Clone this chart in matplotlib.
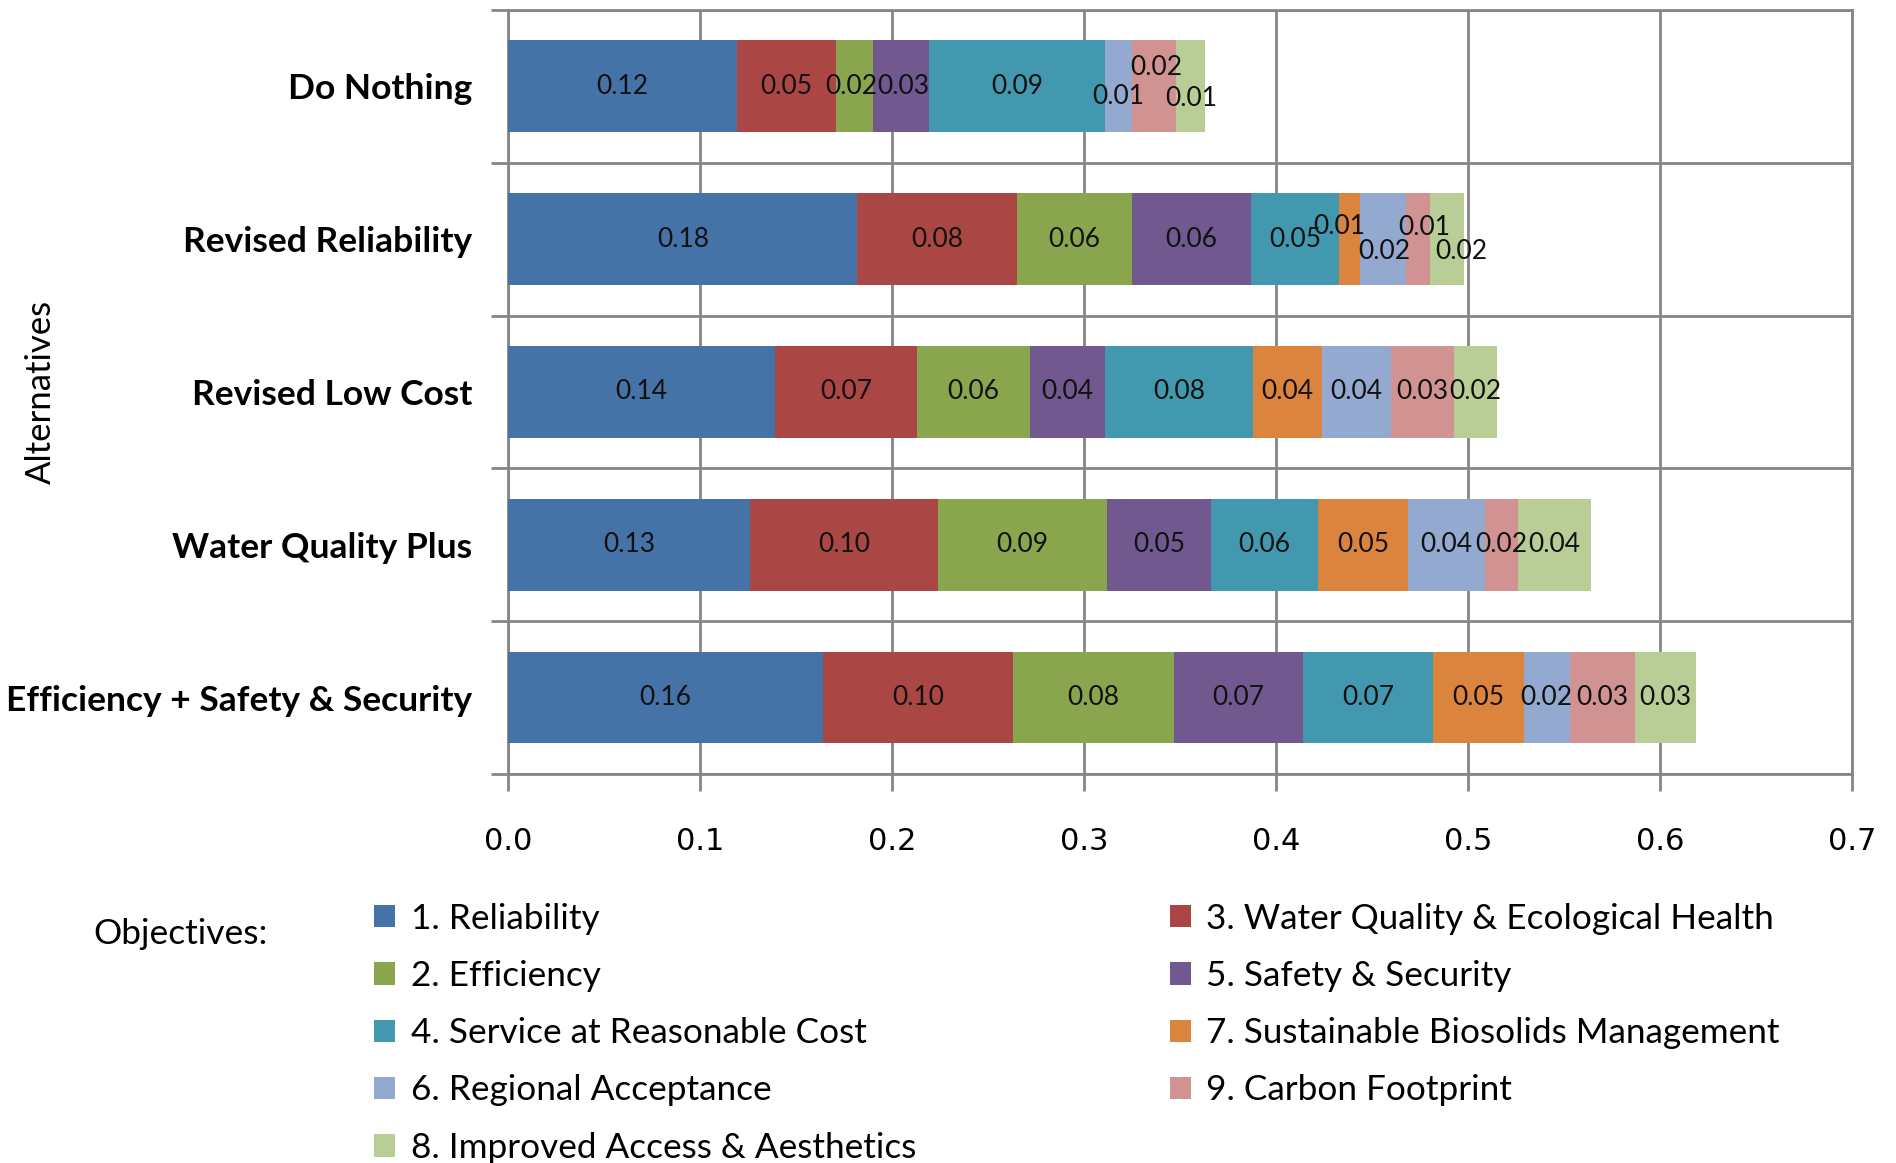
import numpy as np
import matplotlib.pyplot as plt
from matplotlib.patches import Patch

# alternatives, top to bottom
alternatives = ["Do Nothing", "Revised Reliability", "Revised Low Cost",
                "Water Quality Plus", "Efficiency + Safety & Security"]

# objectives in stacking order
objectives = ["1. Reliability", "3. Water Quality & Ecological Health", "2. Efficiency",
              "5. Safety & Security", "4. Service at Reasonable Cost",
              "7. Sustainable Biosolids Management", "6. Regional Acceptance",
              "9. Carbon Footprint", "8. Improved Access & Aesthetics"]

reliability   = [0.119, 0.182, 0.139, 0.126, 0.164]
water_quality = [0.052, 0.083, 0.074, 0.098, 0.099]
efficiency    = [0.019, 0.060, 0.059, 0.088, 0.084]
safety        = [0.029, 0.062, 0.039, 0.054, 0.067]
service       = [0.092, 0.046, 0.077, 0.056, 0.068]
biosolids     = [0.000, 0.011, 0.036, 0.047, 0.047]
regional      = [0.014, 0.024, 0.036, 0.040, 0.024]
carbon        = [0.023, 0.012, 0.033, 0.017, 0.034]
access        = [0.015, 0.018, 0.022, 0.038, 0.032]

series = [reliability, water_quality, efficiency, safety, service,
          biosolids, regional, carbon, access]

colors = ["#4572A7", "#AA4643", "#89A54E", "#71588F", "#4198AF",
          "#DB843D", "#93A9CF", "#D19392", "#B9CD96"]

x_ticks = [0.0, 0.1, 0.2, 0.3, 0.4, 0.5, 0.6, 0.7]

# nudges (pixels) for crowded data labels: (row, series) -> (dx, dy)
label_shift = {(0, 2): (-3, 0), (0, 3): (3, 0),
               (0, 6): (0, -10), (0, 7): (2, 19), (0, 8): (1, -12),
               (1, 5): (-11, 13), (1, 6): (1, -12), (1, 7): (6, 12), (1, 8): (15, -12)}

grid_col = "#868686"
label_font = ["Lato", "DejaVu Sans"]

fig = plt.figure(figsize=(18.96, 11.63), dpi=100)
ax = fig.add_axes([0.268, 0.3345, 0.7087, 0.657])

y = np.arange(len(alternatives))
left = np.zeros(len(alternatives))
for i, vals in enumerate(series):
    vals = np.array(vals)
    ax.barh(y, vals, left=left, height=0.6, color=colors[i], zorder=3)
    for r in range(len(alternatives)):
        if vals[r] <= 0:
            continue
        dx, dy = label_shift.get((r, i), (0, 0))
        ax.annotate(f"{vals[r]:.2f}", (left[r] + vals[r] / 2, y[r]),
                    xytext=(dx, dy), textcoords="offset pixels",
                    ha="center", va="center", fontsize=19,
                    family=label_font, color="#111111", zorder=5)
    left = left + vals

ax.set_xlim(0, 0.7)
ax.set_ylim(len(alternatives) - 0.5, -0.5)
ax.set_xticks(x_ticks)
ax.set_xticklabels([f"{t:.1f}" for t in x_ticks], fontsize=22)
ax.set_yticks(y)
ax.set_yticklabels(alternatives, fontsize=25.5, fontweight="bold", family=label_font)
ax.set_yticks(np.arange(len(alternatives) + 1) - 0.5, minor=True)

ax.tick_params(axis="y", which="major", length=0, pad=26)
ax.tick_params(axis="y", which="minor", length=12, width=2, color=grid_col)
ax.tick_params(axis="x", length=12, width=2, color=grid_col, pad=26)

ax.grid(True, axis="x", color=grid_col, linewidth=2, zorder=0)
ax.grid(True, axis="y", which="minor", color=grid_col, linewidth=2, zorder=0)
for s in ax.spines.values():
    s.set_color(grid_col)
    s.set_linewidth(2)

ax.set_ylabel("Alternatives", fontsize=25, family=label_font)
ax.yaxis.set_label_coords(-0.336, 0.5)

# legend laid out row by row in two columns
order = [0, 2, 4, 6, 8, 1, 3, 5, 7]
handles = [Patch(facecolor=colors[k]) for k in order]
labels = [objectives[k] for k in order]
fig.legend(handles, labels, ncol=2, loc="upper left", bbox_to_anchor=(0.19, 0.236),
           frameon=False, prop={"family": label_font, "size": 25.3},
           handlelength=0.6, handleheight=0.6, handletextpad=0.45,
           columnspacing=7.2, labelspacing=0.72, borderaxespad=0)
fig.text(0.049, 0.197, "Objectives:", fontsize=25.5, family=label_font, va="center")

fig.savefig("out.png", dpi=100)
